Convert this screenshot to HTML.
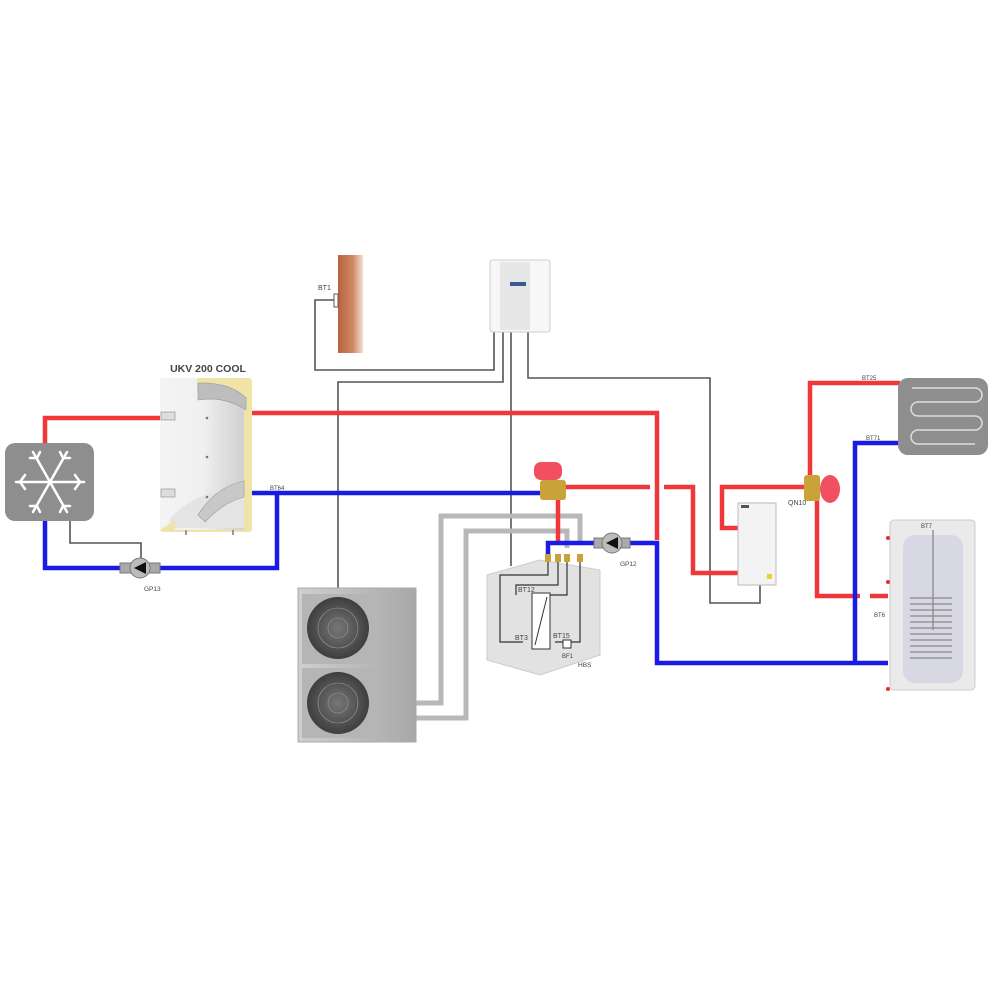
<!DOCTYPE html>
<html><head><meta charset="utf-8"><style>
html,body{margin:0;padding:0;background:#fff;}
svg{display:block;}
text{font-family:"Liberation Sans",sans-serif;fill:#444;}
</style></head><body>
<svg width="1000" height="1000" viewBox="0 0 1000 1000" xmlns="http://www.w3.org/2000/svg">
<defs>
<linearGradient id="wall" x1="0" x2="1"><stop offset="0" stop-color="#b8613e"/><stop offset="0.6" stop-color="#d08a66"/><stop offset="1" stop-color="#f4e0d4"/></linearGradient>
<linearGradient id="tank" x1="0" x2="1"><stop offset="0" stop-color="#f4f4f4"/><stop offset="0.5" stop-color="#f0f0f0"/><stop offset="1" stop-color="#d0d0d0"/></linearGradient>
<linearGradient id="odu" x1="0" x2="1"><stop offset="0" stop-color="#cfcfcf"/><stop offset="1" stop-color="#a8a8a8"/></linearGradient>
<radialGradient id="fan"><stop offset="0" stop-color="#777"/><stop offset="1" stop-color="#3e3e3e"/></radialGradient>
</defs>

<g fill="none" stroke="#555" stroke-width="1.6">
<polyline points="335,300 315,300 315,370 494,370 494,332"/>
<polyline points="503,332 503,382 338,382 338,590"/>
<polyline points="511,332 511,566"/>
<polyline points="528,332 528,378 710,378 710,603 760,603 760,585"/>
<polyline points="70,520 70,543 141,543 141,560"/>
</g>

<g fill="none" stroke="#b8b8b8" stroke-width="5">
<polyline points="415,703 441,703 441,516 580,516 580,545"/>
<polyline points="415,718 466,718 466,531 567,531 567,548"/>
</g>

<g fill="none" stroke="#f0383a" stroke-width="4.5">
<polyline points="160,418 45,418 45,443"/>
<polyline points="252,413 657,413 657,540"/>
<polyline points="565,487 650,487"/>
<polyline points="664,487 693,487 693,573 738,573"/>
<polyline points="558,498 558,545"/>
<polyline points="806,487 722,487 722,528 738,528"/>
<polyline points="810,480 810,383 900,383"/>
<polyline points="817,500 817,596 860,596"/>
<polyline points="870,596 888,596"/>
</g>

<g fill="none" stroke="#1a1ae6" stroke-width="4.5">
<polyline points="45,520 45,568 120,568"/>
<polyline points="160,568 277,568 277,493 252,493"/>
<polyline points="277,493 540,493"/>
<polyline points="548,560 548,543 595,543"/>
<polyline points="630,543 657,543 657,663 888,663"/>
<polyline points="855,663 855,443 900,443"/>
</g>

<rect x="5" y="443" width="89" height="78" rx="10" fill="#8e8e8e"/>
<g stroke="#fff" stroke-width="2.5" fill="none" stroke-linecap="round">
<line x1="16" y1="482" x2="84" y2="482"/><line x1="33" y1="452" x2="67" y2="512"/><line x1="67" y1="452" x2="33" y2="512"/>
<polyline points="25,475 20,482 25,489"/><polyline points="75,475 80,482 75,489"/>
<polyline points="30,458 37,458 40,452"/><polyline points="70,458 63,458 60,452"/>
<polyline points="30,506 37,506 40,512"/><polyline points="70,506 63,506 60,512"/>
</g>

<!-- UKV tank -->
<text x="208" y="372" font-size="10.5" text-anchor="middle" font-weight="bold" fill="#555">UKV 200 COOL</text>
<rect x="160" y="378" width="92" height="154" rx="3" fill="#f0e3a8"/>
<path d="M160,382 Q160,378 165,378 L197,378 L197,392 Q230,395 244,410 L244,530 L160,530z" fill="url(#tank)"/>
<path d="M198,383 Q230,382 246,398 L246,410 Q225,396 198,400z" fill="#bdbdbd" stroke="#999" stroke-width="0.6"/>
<path d="M170,518 Q200,488 244,488 L244,528 L170,528z" fill="#e4e4e4"/>
<path d="M198,515 Q215,487 244,481 L244,497 Q222,503 205,522z" fill="#c8c8c8" stroke="#999" stroke-width="0.6"/>
<path d="M160,530 L175,520 L175,530z" fill="#f0e3a8"/>
<rect x="161" y="412" width="14" height="8" fill="#ddd" stroke="#888" stroke-width="0.6"/>
<rect x="161" y="489" width="14" height="8" fill="#ddd" stroke="#888" stroke-width="0.6"/>
<rect x="185" y="530" width="2" height="5" fill="#999"/><rect x="232" y="530" width="2" height="5" fill="#999"/>
<circle cx="207" cy="418" r="1.3" fill="#777"/><circle cx="207" cy="457" r="1.3" fill="#777"/><circle cx="207" cy="497" r="1.3" fill="#777"/>
<text x="270" y="490" font-size="6">BT64</text>
<g transform="translate(140,568)"><rect x="-20" y="-5" width="40" height="10" fill="#aaa" stroke="#777"/><circle r="10" fill="#bbb" stroke="#777"/><polygon points="-6,0 6,-6 6,6" fill="#111"/></g>
<text x="144" y="591" font-size="6.5">GP13</text>

<rect x="338" y="255" width="25" height="98" fill="url(#wall)"/>
<rect x="334" y="294" width="4" height="13" fill="#fff" stroke="#555"/>
<text x="318" y="290" font-size="7">BT1</text>

<rect x="490" y="260" width="60" height="72" rx="3" fill="#f7f7f7" stroke="#ccc"/>
<rect x="500" y="262" width="30" height="68" fill="#e7e7e7"/>
<rect x="510" y="282" width="16" height="4" fill="#3b5b8a"/>

<!-- outdoor unit -->
<rect x="298" y="588" width="118" height="154" fill="url(#odu)" stroke="#aaa"/>
<rect x="302" y="594" width="72" height="70" fill="#b5b5b5"/>
<circle cx="338" cy="628" r="31" fill="url(#fan)"/>
<rect x="302" y="668" width="72" height="70" fill="#b5b5b5"/>
<circle cx="338" cy="703" r="31" fill="url(#fan)"/>
<g stroke="#999" stroke-width="0.6" fill="none"><circle cx="338" cy="628" r="20"/><circle cx="338" cy="703" r="20"/><circle cx="338" cy="628" r="10"/><circle cx="338" cy="703" r="10"/></g>

<rect x="540" y="480" width="26" height="20" rx="3" fill="#c9a23a"/>
<rect x="534" y="462" width="28" height="18" rx="7" fill="#f05060"/>

<polygon points="487,575 540,560 600,570 600,655 540,675 487,660" fill="#e2e2e2" stroke="#ccc"/>
<g fill="none" stroke="#333" stroke-width="1.2">
<polyline points="548,560 548,575 500,575 500,642 523,642"/>
<polyline points="558,560 558,585 516,585 516,595"/>
<polyline points="567,560 567,595 550,595"/>
<polyline points="580,560 580,642 555,642"/>
</g>
<rect x="532" y="593" width="18" height="56" fill="#fff" stroke="#333"/>
<line x1="535" y1="645" x2="547" y2="597" stroke="#333"/>
<rect x="563" y="640" width="8" height="8" fill="#fff" stroke="#333"/>
<text x="518" y="592" font-size="7">BT12</text>
<text x="515" y="640" font-size="7">BT3</text>
<text x="553" y="638" font-size="7">BT15</text>
<text x="562" y="658" font-size="6">BF1</text>
<text x="578" y="667" font-size="6.5">HBS</text>
<g fill="#c9a23a"><rect x="545" y="554" width="6" height="8"/><rect x="555" y="554" width="6" height="8"/><rect x="564" y="554" width="6" height="8"/><rect x="577" y="554" width="6" height="8"/></g>

<g transform="translate(612,543)"><rect x="-18" y="-5" width="36" height="10" fill="#aaa" stroke="#777"/><circle r="10" fill="#bbb" stroke="#777"/><polygon points="-6,0 6,-6 6,6" fill="#111"/></g>
<text x="620" y="566" font-size="6.5">GP12</text>

<rect x="738" y="503" width="38" height="82" fill="#f3f3f3" stroke="#bbb"/>
<rect x="741" y="505" width="8" height="3" fill="#555"/>
<rect x="767" y="574" width="5" height="5" fill="#e8d23a"/>

<rect x="804" y="475" width="16" height="26" rx="3" fill="#c9a23a"/>
<ellipse cx="830" cy="489" rx="10" ry="14" fill="#f05060"/>
<text x="788" y="505" font-size="7">QN10</text>

<rect x="898" y="378" width="90" height="77" rx="10" fill="#8e8e8e"/>
<path d="M912,388 H975 A7,7 0 0 1 975,402 H918 A7,7 0 0 0 918,416 H975 A7,7 0 0 1 975,430 H918 A7,7 0 0 0 918,444 H975" fill="none" stroke="#ddd" stroke-width="1.5"/>
<text x="862" y="380" font-size="6">BT25</text>
<text x="866" y="440" font-size="6">BT71</text>

<rect x="890" y="520" width="85" height="170" rx="4" fill="#eaeaea" stroke="#ccc"/>
<rect x="903" y="535" width="60" height="148" rx="12" fill="#d7d8e4"/>
<g stroke="#888" stroke-width="1.3">
<line x1="910" y1="598" x2="952" y2="598"/><line x1="910" y1="604" x2="952" y2="604"/><line x1="910" y1="610" x2="952" y2="610"/><line x1="910" y1="616" x2="952" y2="616"/><line x1="910" y1="622" x2="952" y2="622"/><line x1="910" y1="628" x2="952" y2="628"/><line x1="910" y1="634" x2="952" y2="634"/><line x1="910" y1="640" x2="952" y2="640"/><line x1="910" y1="646" x2="952" y2="646"/><line x1="910" y1="652" x2="952" y2="652"/><line x1="910" y1="658" x2="952" y2="658"/>
<line x1="933" y1="530" x2="933" y2="630"/>
</g>
<text x="921" y="528" font-size="6">BT7</text>
<text x="874" y="617" font-size="6">BT6</text>
<g fill="#e03030"><circle cx="888" cy="538" r="2"/><circle cx="888" cy="582" r="2"/><circle cx="888" cy="689" r="2"/></g>
</svg>
</body></html>
